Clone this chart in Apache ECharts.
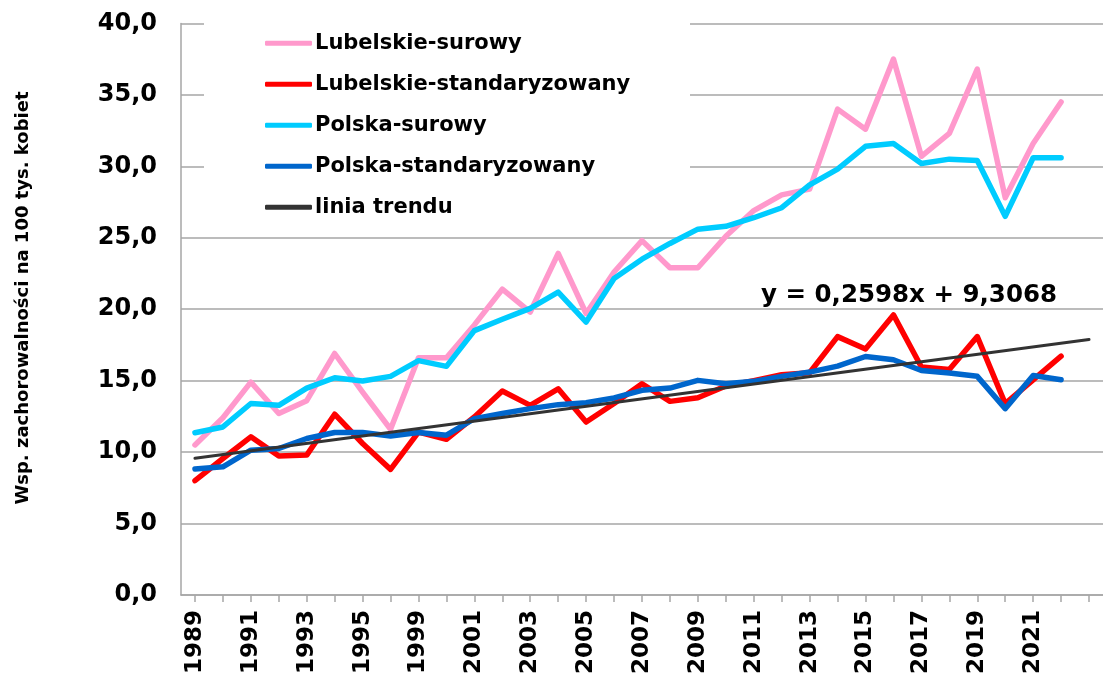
<!DOCTYPE html>
<html>
<head>
<meta charset="utf-8">
<script src="https://cdn.jsdelivr.net/npm/echarts@6/dist/echarts.min.js"></script>
<style>
html, body { margin: 0; padding: 0; background: #fff; }
#chart { width: 1103px; height: 677px; }
</style>
</head>
<body>
<div id="chart"></div>
<script>
// years on the axis (1996-1998 collapsed into one slot, last slot only carries the trend)
var categories = ["1989", "1990", "1991", "1992", "1993", "1994", "1995", "1997",
    "1999", "2000", "2001", "2002", "2003", "2004", "2005", "2006", "2007", "2008",
    "2009", "2010", "2011", "2012", "2013", "2014", "2015", "2016", "2017", "2018",
    "2019", "2020", "2021", "2022", ""];

var lubelskieSurowy = [10.5, 12.4, 14.9, 12.7, 13.6, 16.9, 14.2, 11.6, 16.6, 16.6,
    18.9, 21.4, 19.8, 23.9, 19.7, 22.6, 24.8, 22.9, 22.9, 25.1,
    26.9, 28.0, 28.4, 34.0, 32.6, 37.5, 30.7, 32.3, 36.8, 27.8, 31.6, 34.5];

var lubelskieStd = [8.0, 9.55, 11.07, 9.72, 9.79, 12.65, 10.6, 8.79, 11.4, 10.9,
    12.46, 14.27, 13.27, 14.43, 12.1, 13.4, 14.78, 13.55, 13.8, 14.62,
    15.0, 15.41, 15.55, 18.08, 17.22, 19.6, 15.95, 15.78, 18.08, 13.39, 15.06, 16.71];

var polskaSurowy = [11.35, 11.76, 13.4, 13.27, 14.48, 15.2, 14.97, 15.3, 16.4, 16.0,
    18.5, 19.3, 20.06, 21.2, 19.1, 22.15, 23.5, 24.6, 25.6, 25.8,
    26.4, 27.1, 28.7, 29.8, 31.4, 31.6, 30.2, 30.5, 30.4, 26.5, 30.6, 30.6];

var polskaStd = [8.81, 8.97, 10.13, 10.25, 10.95, 11.37, 11.37, 11.13, 11.37, 11.18,
    12.34, 12.7, 13.04, 13.32, 13.46, 13.79, 14.32, 14.48, 15.02, 14.78,
    14.95, 15.3, 15.6, 16.02, 16.69, 16.46, 15.71, 15.53, 15.3, 13.04, 15.36, 15.06];

// trend line end points (first and last slot)
var trendStart = 9.57;
var trendEnd = 17.88;
var trendLabel = "y = 0,2598x + 9,3068";
var yTitle = "Wsp. zachorowalności na 100 tys. kobiet";

var trendData = categories.map(function(c, i) {
    if (i === 0) return trendStart;
    if (i === categories.length - 1) return trendEnd;
    return null;
});

var font = "'DejaVu Sans', Verdana, sans-serif";
var gray = "#a6a6a6";

function lineSeries(name, data, color, width) {
    return {
        name: name,
        type: "line",
        data: data,
        symbol: "none",
        connectNulls: true,
        animation: false,
        lineStyle: { color: color, width: width, join: "round", cap: "round" },
        itemStyle: { color: color }
    };
}

var chart = echarts.init(document.getElementById("chart"));
var option = {
    backgroundColor: "#fff",
    animation: false,
    grid: { left: 181, top: 23.4, width: 931.6, height: 573.6 },
    legend: {
        orient: "vertical",
        left: 265,
        top: 32.8,
        padding: 0,
        z: 50,
        itemWidth: 47,
        itemHeight: 5,
        itemGap: 20,
        icon: "roundRect",
        textStyle: {
            fontFamily: font,
            fontWeight: "bold",
            fontSize: 21,
            lineHeight: 21,
            color: "#000",
            padding: [0, 0, 0, -2]
        }
    },
    xAxis: {
        type: "category",
        data: categories,
        boundaryGap: true,
        axisLine: { lineStyle: { color: gray, width: 1.5 } },
        axisTick: {
            show: true,
            alignWithLabel: true,
            interval: 0,
            length: 7,
            lineStyle: { color: gray, width: 1.5 }
        },
        axisLabel: {
            interval: 1,
            rotate: 90,
            margin: 15,
            fontFamily: font,
            fontWeight: "bold",
            fontSize: 23,
            color: "#000"
        },
        splitLine: { show: false }
    },
    yAxis: {
        type: "value",
        min: 0,
        max: 40,
        interval: 5,
        axisLine: { show: true, lineStyle: { color: gray, width: 1.5 } },
        axisTick: { show: false },
        axisLabel: {
            margin: 24,
            fontFamily: font,
            fontWeight: "bold",
            fontSize: 24,
            color: "#000",
            formatter: function(v) {
                return v.toFixed(1).replace(".", ",");
            }
        },
        splitLine: { show: true, lineStyle: { color: gray, width: 1.5 } }
    },
    graphic: {
        elements: [
            {
                // white box behind the legend that hides the top grid lines
                type: "rect",
                left: 204,
                top: 15,
                z: 40,
                shape: { width: 486, height: 210 },
                style: { fill: "#ffffff" }
            },
            {
                type: "text",
                x: 23,
                y: 298,
                rotation: Math.PI / 2,
                style: {
                    text: yTitle,
                    fontFamily: font,
                    fontWeight: "bold",
                    fontSize: 18,
                    fill: "#000",
                    align: "center",
                    verticalAlign: "middle"
                }
            },
            {
                type: "text",
                x: 909,
                y: 296,
                style: {
                    text: trendLabel,
                    fontFamily: font,
                    fontWeight: "bold",
                    fontSize: 24.5,
                    fill: "#000",
                    align: "center",
                    verticalAlign: "middle"
                }
            }
        ]
    },
    series: [
        lineSeries("Lubelskie-surowy", lubelskieSurowy, "#ff99cc", 5.5),
        lineSeries("Lubelskie-standaryzowany", lubelskieStd, "#ff0000", 5.5),
        lineSeries("Polska-surowy", polskaSurowy, "#00ccff", 5.5),
        lineSeries("Polska-standaryzowany", polskaStd, "#0066cc", 5.5),
        lineSeries("linia trendu", trendData, "#333333", 3)
    ]
};
chart.setOption(option);
</script>
</body>
</html>
